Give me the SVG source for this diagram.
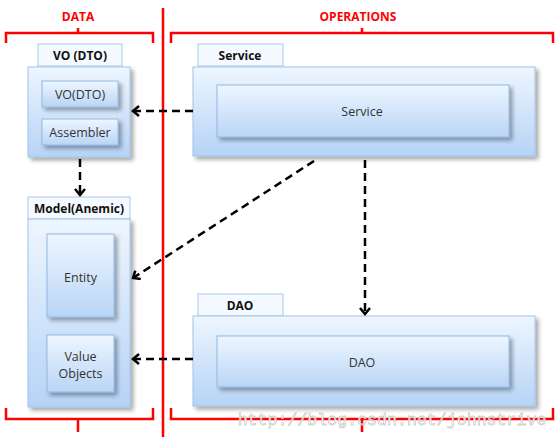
<svg xmlns="http://www.w3.org/2000/svg" width="559" height="441" viewBox="0 0 559 441">
<style>
text{font-family:"Open Sans","Liberation Sans",sans-serif;text-anchor:middle;dominant-baseline:central}
.tab{fill:#f4faff;stroke:#a9c8ea;stroke-width:1}
.tabt{font-size:12px;font-weight:bold;fill:#111}
.outer{fill:url(#gOut);stroke:#9fc3ea;stroke-width:1;filter:url(#sh)}
.inner{fill:url(#gIn);stroke:#92b8e2;stroke-width:1;filter:url(#sh)}
.lbl{font-size:12.5px;fill:#333}
.red{fill:none;stroke:#f00;stroke-width:2.5}
.redt{font-size:12px;font-weight:bold;fill:#f00}
.dash{fill:none;stroke:#000;stroke-width:2.5;stroke-dasharray:8,5;marker-end:url(#arr)}
</style>
<defs>
<linearGradient id="gOut" x1="0" y1="0" x2="0" y2="1"><stop offset="0" stop-color="#eef6ff"/><stop offset="1" stop-color="#b6d3f6"/></linearGradient>
<linearGradient id="gIn" x1="0" y1="0" x2="0" y2="1"><stop offset="0" stop-color="#eef6ff"/><stop offset="1" stop-color="#b9d5f6"/></linearGradient>
<filter id="sh" x="-10%" y="-10%" width="130%" height="140%"><feGaussianBlur in="SourceAlpha" stdDeviation="2"/><feOffset dx="3" dy="3"/><feComponentTransfer><feFuncA type="linear" slope="0.35"/></feComponentTransfer><feMerge><feMergeNode/><feMergeNode in="SourceGraphic"/></feMerge></filter>
<marker id="arr" markerWidth="12" markerHeight="12" refX="9" refY="6" orient="auto" markerUnits="userSpaceOnUse"><path d="M3,1 L9,6 L3,11" fill="none" stroke="#000" stroke-width="2.5"/></marker>
</defs>

<g id="brackets">
<path class="red" d="M6,43 V33 H153 V43 M78,33 V28"/>
<path class="red" d="M171,43 V33 H553 V43 M362,33 V28"/>
<path class="red" d="M6,408 V419 H153 V408 M78,419 V432"/>
<path class="red" d="M171,408 V419 H553 V408 M362,419 V432"/>
<line class="red" x1="163" y1="8" x2="163" y2="437"/>
<text class="redt" x="78" y="16">DATA</text>
<text class="redt" x="358" y="16">OPERATIONS</text>
</g>

<g id="vo">
<rect class="tab" x="38" y="44" width="84" height="22"/>
<text class="tabt" x="80" y="55.5">VO (DTO)</text>
<rect class="outer" x="28" y="67" width="102" height="90"/>
</g>
<g id="vodto"><rect class="inner" x="42" y="81" width="76" height="26"/><text class="lbl" x="80" y="94">VO(DTO)</text></g>
<g id="assembler"><rect class="inner" x="42" y="119" width="76" height="26"/><text class="lbl" x="80" y="132">Assembler</text></g>

<g id="model">
<rect class="tab" x="28" y="197" width="102" height="22"/>
<text class="tabt" x="79" y="208.5">Model(Anemic)</text>
<rect class="outer" x="28" y="219" width="102" height="188"/>
</g>
<g id="entity"><rect class="inner" x="47" y="234" width="67" height="83"/><text class="lbl" x="80.5" y="277">Entity</text></g>
<g id="valueobjects"><rect class="inner" x="47" y="335" width="67" height="57"/><text class="lbl" x="80.5" y="356">Value</text><text class="lbl" x="80.5" y="373">Objects</text></g>

<g id="service">
<rect class="tab" x="198" y="44" width="85" height="22"/>
<text class="tabt" x="240" y="55.5">Service</text>
<rect class="outer" x="193" y="67" width="342" height="89"/>
</g>
<g id="serviceInner"><rect class="inner" x="217" y="85" width="292" height="52"/><text class="lbl" x="362" y="111">Service</text></g>

<g id="dao">
<rect class="tab" x="198" y="294" width="85" height="22"/>
<text class="tabt" x="240" y="305.5">DAO</text>
<rect class="outer" x="193" y="316" width="342" height="90"/>
</g>
<g id="daoInner"><rect class="inner" x="217" y="336" width="292" height="51"/><text class="lbl" x="362" y="362">DAO</text></g>

<g id="connectors">
<line class="dash" x1="193" y1="111" x2="133" y2="111"/>
<line class="dash" x1="80" y1="159" x2="80" y2="195"/>
<line class="dash" x1="314" y1="161" x2="133" y2="278"/>
<line class="dash" x1="365" y1="160" x2="365" y2="314"/>
<line class="dash" x1="193" y1="359" x2="133" y2="359"/>
</g>

<text x="392" y="420" style="font-family:'Liberation Mono',monospace;font-size:16.6px;fill:#fff;stroke:#c8c8c8;stroke-width:0.8;opacity:0.9">http://blog.csdn.net/johnstrive</text>
</svg>
